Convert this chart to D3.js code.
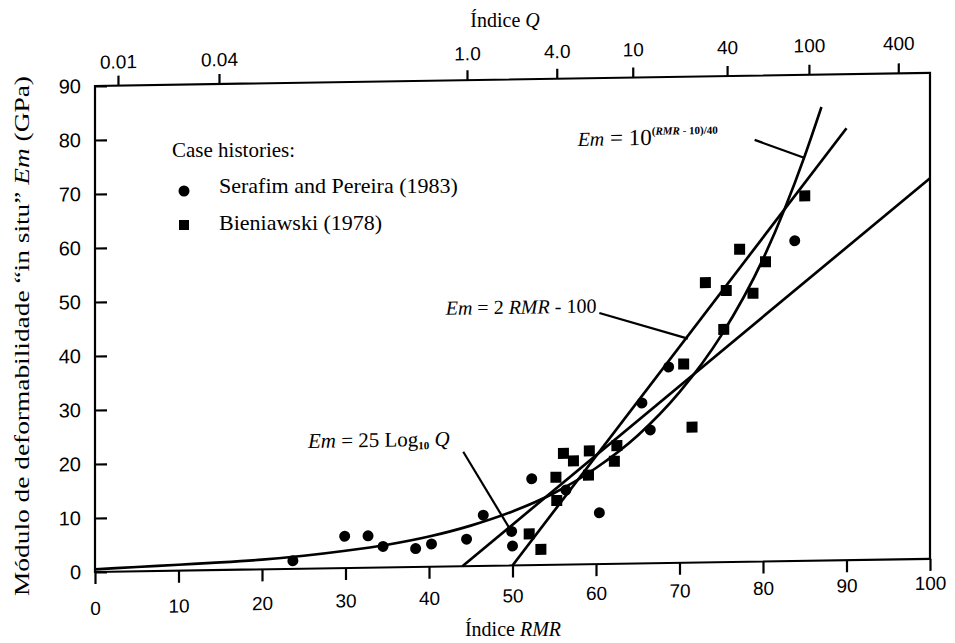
<!DOCTYPE html>
<html>
<head>
<meta charset="utf-8">
<script src="https://cdn.jsdelivr.net/npm/d3@7"></script>
<style>
  body { margin: 0; background: #fff; }
  .num { font-family: "Liberation Sans", Arial, sans-serif; font-size: 19px; fill: #000; }
  .ser { font-family: "Liberation Serif", "Times New Roman", serif; font-size: 20px; fill: #000; }
</style>
</head>
<body>
<div id="chart"></div>
<script>
// axis ticks
const rmrTicks = [0, 10, 20, 30, 40, 50, 60, 70, 80, 90, 100];
const emTicks = [0, 10, 20, 30, 40, 50, 60, 70, 80, 90];
// top axis: Q labels and the RMR where each sits
const qLabels = ["0.01", "0.04", "1.0", "4.0", "10", "40", "100", "400"];
const qAtRmr = [2.75, 14.85, 44.55, 55.3, 64.4, 75.7, 85.5, 96.2];

// case histories (RMR, Em)
const serafimRmr = [23.7, 29.9, 32.7, 34.5, 38.4, 40.3, 44.5, 46.5, 49.9, 50.0, 52.3, 56.4, 60.4, 65.5, 66.5, 68.7, 83.8];
const serafimEm  = [1.5, 5.9, 5.9, 3.9, 3.4, 4.2, 5.0, 9.4, 6.3, 3.6, 16.0, 13.8, 9.5, 29.7, 24.7, 36.3, 59.3];
const bieniawskiRmr = [52.0, 53.4, 55.2, 55.3, 56.1, 57.3, 59.2, 59.1, 62.2, 62.5, 70.5, 71.5, 73.1, 75.3, 75.6, 77.2, 78.8, 80.3, 85.0];
const bieniawskiEm  = [5.8, 2.9, 16.2, 11.9, 20.6, 19.2, 21.0, 16.5, 19.0, 21.9, 36.8, 25.1, 51.8, 43.1, 50.3, 57.9, 49.7, 55.5, 67.6];

// fitted curves
const expRmr = [0, 5, 10, 15, 20, 25, 30, 35, 40, 45, 50, 55, 60, 65, 70, 75, 80, 85, 87];
const expEm  = [0.5, 0.8, 1.1, 1.4, 1.8, 2.4, 3.2, 4.2, 5.6, 7.5, 10, 13.3, 17.8, 23.7, 31.6, 42, 56, 75, 84];
const linRmr = [50, 90];
const linEm  = [0, 80];
const logRmr = [44, 100];
const logEm  = [0, 70.5];

const W = 955, H = 643;
const plotLeft = 95, plotBottom = 572, plotW = 835, plotH = 486;

const svg = d3.select("#chart").append("svg")
  .attr("width", W).attr("height", H);

const x = d3.scaleLinear().domain([0, 100]).range([0, plotW]);
const y = d3.scaleLinear().domain([0, 90]).range([0, -plotH]);

// the scan is slightly sheared
const g = svg.append("g")
  .attr("transform", `translate(${plotLeft},${plotBottom}) skewY(-0.9)`);

// frame
g.append("rect")
  .attr("x", 0).attr("y", -plotH)
  .attr("width", plotW).attr("height", plotH)
  .attr("fill", "none").attr("stroke", "#000").attr("stroke-width", 2.2);

// bottom axis
const xAxis = g.append("g")
  .call(d3.axisBottom(x).tickValues(rmrTicks).tickSize(12).tickFormat(d3.format("d")));
xAxis.select(".domain").remove();
xAxis.selectAll("line").attr("stroke-width", 2.2);
xAxis.selectAll("text").attr("class", "num")
  .attr("dy", 0).attr("y", d => 43 - 0.12 * d);

// left axis, ticks inward
const yAxis = g.append("g")
  .call(d3.axisLeft(y).tickValues(emTicks).tickSize(-12).tickPadding(14).tickFormat(d3.format("d")));
yAxis.select(".domain").remove();
yAxis.selectAll("line").attr("stroke-width", 2.2);
yAxis.selectAll("text").attr("class", "num").style("font-size", "20px");

// top axis (Q)
const topAxis = g.append("g")
  .attr("transform", `translate(0,${-plotH})`)
  .call(d3.axisTop(x).tickValues(qAtRmr).tickSize(10)
    .tickFormat((d, i) => qLabels[i]));
topAxis.select(".domain").remove();
topAxis.selectAll("line").attr("stroke-width", 2.2);
topAxis.selectAll("text").attr("class", "num")
  .attr("dy", 0).attr("y", d => -(17 + 0.065 * d));

// curves
const line = d3.line().x(d => x(d[0])).y(d => y(d[1]));
const curves = [
  d3.zip(expRmr, expEm),
  d3.zip(linRmr, linEm),
  d3.zip(logRmr, logEm)
];
g.selectAll(".curve").data(curves).enter().append("path")
  .attr("class", "curve")
  .attr("d", d => line.curve(d.length > 2 ? d3.curveMonotoneX : d3.curveLinear)(d))
  .attr("fill", "none").attr("stroke", "#000").attr("stroke-width", 2.7);

// points
g.selectAll(".serafim").data(d3.zip(serafimRmr, serafimEm)).enter().append("circle")
  .attr("class", "serafim")
  .attr("cx", d => x(d[0])).attr("cy", d => y(d[1])).attr("r", 5.5)
  .attr("fill", "#000");
const sq = 11;
g.selectAll(".bien").data(d3.zip(bieniawskiRmr, bieniawskiEm)).enter().append("rect")
  .attr("class", "bien")
  .attr("x", d => x(d[0]) - sq / 2).attr("y", d => y(d[1]) - sq / 2)
  .attr("width", sq).attr("height", sq)
  .attr("fill", "#000");

// leaders for the equation labels: [rmr1, em1, rmr2, em2]
const leaders = [
  [79.0, 78.1, 85.0, 74.6],
  [60.4, 46.5, 71.0, 41.5],
  [44.1, 21.2, 49.9, 6.2]
];
g.selectAll(".leader").data(leaders).enter().append("line")
  .attr("class", "leader")
  .attr("x1", d => x(d[0])).attr("y1", d => y(d[1]))
  .attr("x2", d => x(d[2])).attr("y2", d => y(d[3]))
  .attr("stroke", "#000").attr("stroke-width", 2.2);

// equation labels
const eq1 = g.append("text").attr("class", "ser")
  .attr("x", x(57.8)).attr("y", y(77.5));
eq1.append("tspan").attr("font-style", "italic").text("Em");
eq1.append("tspan").attr("font-size", 23).text(" = 10");
eq1.append("tspan").attr("font-size", 11).attr("font-weight", "bold").attr("dy", -10).text("(");
eq1.append("tspan").attr("font-size", 11).attr("font-weight", "bold").attr("font-style", "italic").text("RMR");
eq1.append("tspan").attr("font-size", 11).attr("font-weight", "bold").text(" - 10)/40");

const eq2 = g.append("text").attr("class", "ser")
  .attr("x", x(42.0)).attr("y", y(46.6));
eq2.append("tspan").attr("font-style", "italic").text("Em");
eq2.append("tspan").text(" = 2 ");
eq2.append("tspan").attr("font-style", "italic").text("RMR");
eq2.append("tspan").text(" - 100");

const eq3 = g.append("text").attr("class", "ser").style("font-size", "21px")
  .attr("x", x(25.5)).attr("y", y(22.35));
eq3.append("tspan").attr("font-style", "italic").text("Em");
eq3.append("tspan").text(" = 25 Log");
eq3.append("tspan").attr("font-size", 11).attr("font-weight", "bold").attr("dy", 3).text("10");
eq3.append("tspan").attr("dy", -3).text(" ");
eq3.append("tspan").attr("font-style", "italic").text("Q");

// legend
const legend = svg.append("g");
legend.append("text").attr("class", "ser").style("font-size", "21px").attr("x", 172).attr("y", 157).text("Case histories:");
legend.append("circle").attr("cx", 184).attr("cy", 191).attr("r", 5.5).attr("fill", "#000");
legend.append("text").attr("class", "ser").style("font-size", "22px").attr("x", 219).attr("y", 193).text("Serafim and Pereira (1983)");
legend.append("rect").attr("x", 179).attr("y", 220).attr("width", 10).attr("height", 10).attr("fill", "#000");
legend.append("text").attr("class", "ser").style("font-size", "22px").attr("x", 219).attr("y", 230).text("Bieniawski (1978)");

// axis titles
const bt = svg.append("text").attr("class", "ser").attr("x", 513).attr("y", 636).attr("text-anchor", "middle");
bt.append("tspan").text("Índice ");
bt.append("tspan").attr("font-style", "italic").text("RMR");

const tt = svg.append("text").attr("class", "ser").attr("x", 505).attr("y", 27).attr("text-anchor", "middle");
tt.append("tspan").text("Índice ");
tt.append("tspan").attr("font-style", "italic").text("Q");

const yt = svg.append("text").attr("class", "ser").style("font-size", "22px")
  .attr("transform", "translate(29,336) rotate(-90)").attr("text-anchor", "middle")
  .attr("textLength", 520).attr("lengthAdjust", "spacingAndGlyphs");
yt.append("tspan").text("Módulo de deformabilidade “in situ” ");
yt.append("tspan").attr("font-style", "italic").text("Em");
yt.append("tspan").text("  (GPa)");
</script>
</body>
</html>
